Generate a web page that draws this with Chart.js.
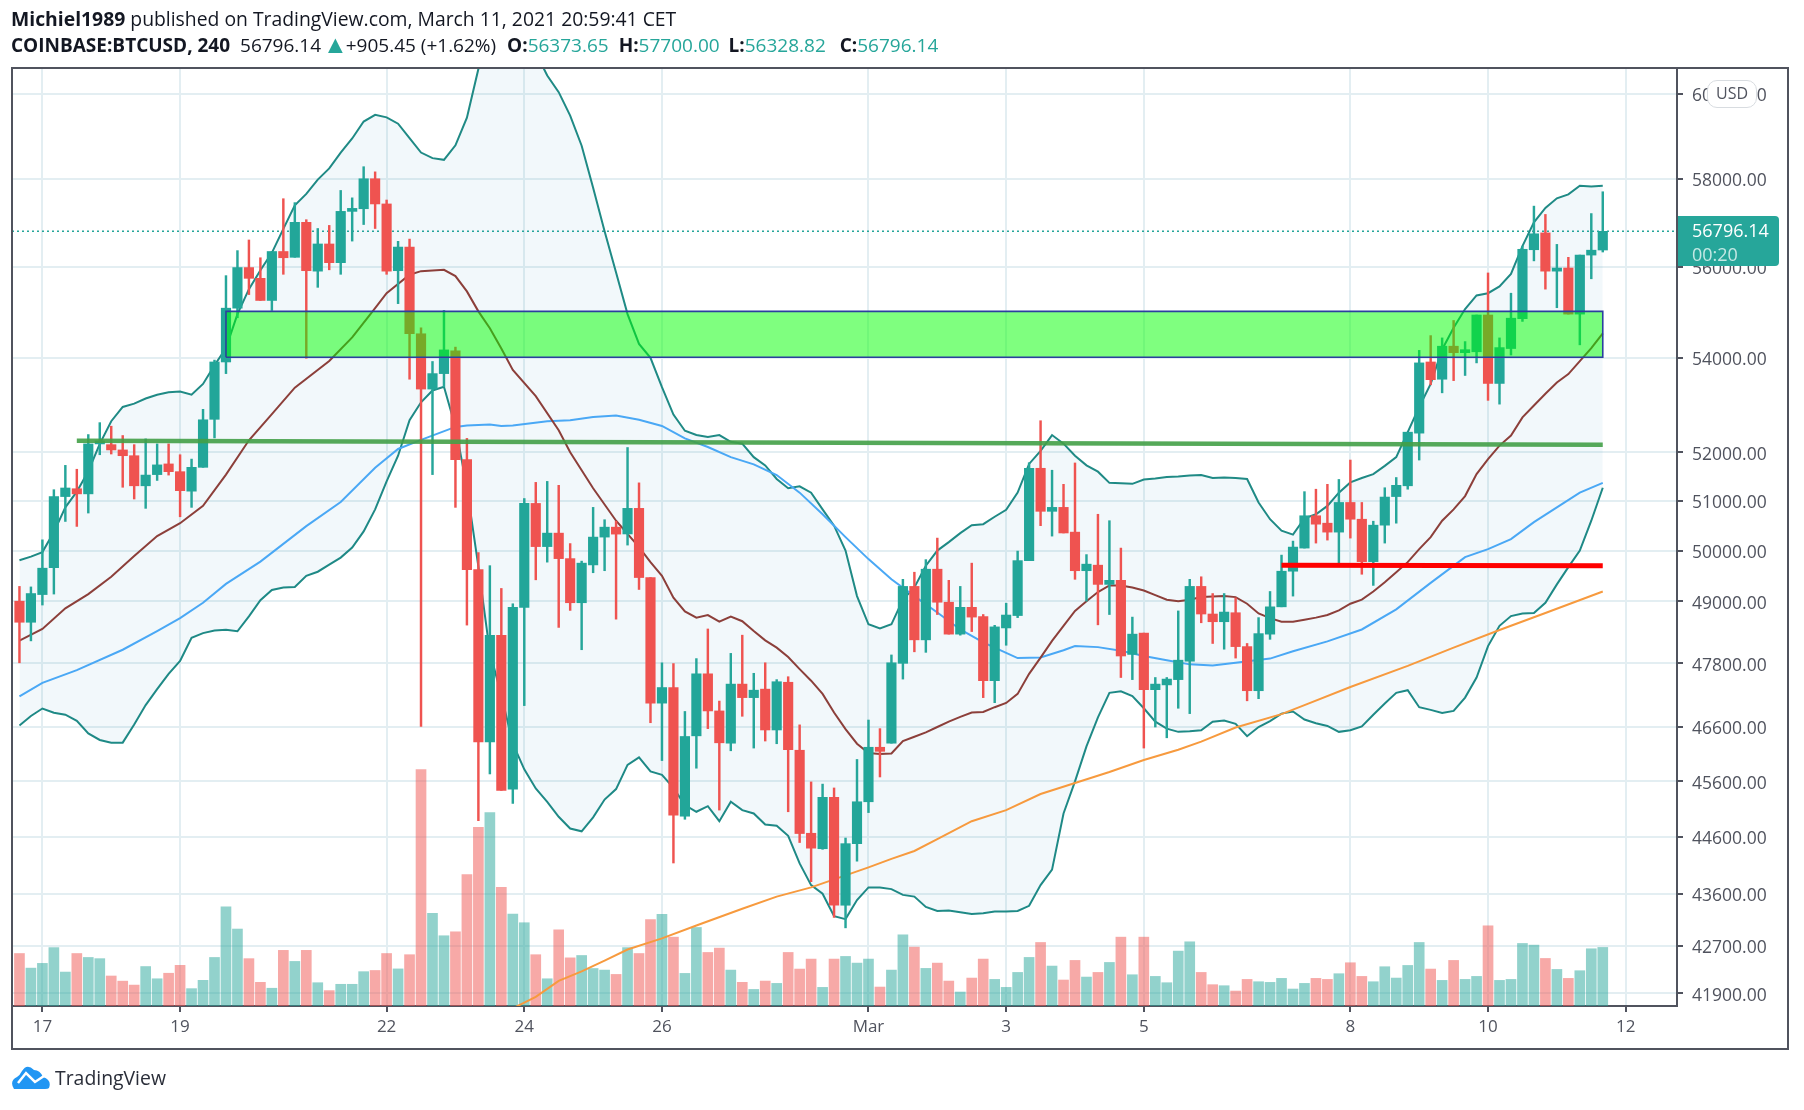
<!DOCTYPE html>
<html>
<head>
<meta charset="utf-8">
<title>BTCUSD</title>
<script src="https://cdn.jsdelivr.net/npm/chart.js@4/dist/chart.umd.min.js"></script>
<style>
  html, body { margin: 0; background: #fff; }
  body { width: 1804px; height: 1110px; position: relative; overflow: hidden; font-family: "Open Sans", sans-serif; color: #131722; }
  canvas { position: absolute; left: 0; top: 0; }
  .line1, .line2, .brand, .frame, .usd, .last { position: absolute; }
  .line1 { left: 11px; top: 5px; font-size: 19.35px; white-space: nowrap; }
  .line2 { left: 11px; top: 32px; font-size: 19px; white-space: nowrap; }
  .line2 i { font-style: normal; color: #26a69a; }
  .line2 .now { margin-left: 5px; }
  .line2 .up { font-size: 25px; line-height: 19px; vertical-align: -1px; margin-left: -3px; margin-right: -7px; }
  .line2 .o { margin-left: 6px; }
  .line2 .h { margin-left: 5px; }
  .line2 .l { margin-left: 4px; }
  .line2 .c { margin-left: 9px; }
  .frame { left: 11px; top: 67px; width: 1774px; height: 979px; border: 2px solid #50535e; pointer-events: none; }
  .usd { left: 1707px; top: 80px; width: 48px; height: 26px; line-height: 25px; text-align: center; font-size: 16px; color: #50535e; background: #fff; border: 1px solid #d8dce0; border-radius: 10px; }
  .last { left: 1678px; top: 216px; width: 101px; height: 50px; background: #26a69a; color: #fff; border-radius: 0 4px 4px 0; font-size: 18px; line-height: 24px; padding: 2px 0 0 14px; box-sizing: border-box; }
  .last em { font-style: normal; color: #c4e8e4; }
  .brand { left: 55px; top: 1064px; font-size: 19.4px; color: #2a2e39; }
  svg { position: absolute; left: 11px; top: 1064px; }
</style>
</head>
<body>
<canvas id="chart" width="1804" height="1110"></canvas>
<div class="line1"><b>Michiel1989</b> published on TradingView.com, March 11, 2021 20:59:41 CET</div>
<div class="line2"><b>COINBASE:BTCUSD, 240</b> <span class="now">56796.14</span> <i class="up">&#9650;</i> +905.45 (+1.62%) <b class="o">O:</b><i>56373.65</i> <b class="h">H:</b><i>57700.00</i> <b class="l">L:</b><i>56328.82</i> <b class="c">C:</b><i>56796.14</i></div>
<div class="frame"></div>
<div class="usd">USD</div>
<div class="last">56796.14<br><em>00:20</em></div>
<svg width="40" height="26" viewBox="0 0 40 26"><path d="M3 25 Q-2 17 6 13 Q9 11 11 7 Q16 -1 23 6 Q29 6 32 13 Q41 16 38 24 Q37 25 34 25 Z" fill="#2196f3"/><path d="M7 19 L15 9 L24 18 L33 12" fill="none" stroke="#fff" stroke-width="2.5"/></svg>
<div class="brand">TradingView</div>

<script>
// 4h candles, bar 0 is 16 Feb 16:00 and bar 138 is 11 Mar 20:00
const opens = [49000,48590,49130,49660,51090,51250,51145,52175,52160,52050,51930,51310,51540,51760,51600,51200,51690,52690,53910,55080,55980,55740,55250,56340,56210,57000,55900,56510,56090,57250,57310,58000,57420,55910,56440,54520,53330,53660,54150,51850,49620,46325,48335,45460,48880,50950,50080,50350,49840,48970,49715,50270,50470,50333,50850,49465,47046,47340,44970,46436,47600,46900,46300,47405,47150,47310,46545,47440,46170,44665,44390,45310,43400,44480,45230,46225,46300,47800,49290,48250,49630,48980,48360,48880,48700,47470,48480,48720,49800,51670,50790,50870,50370,49600,49710,49330,49410,47970,48380,47300,47390,47490,47840,49290,48750,48600,48775,48120,47280,48360,48890,49590,50050,50700,50550,50370,50970,50630,49780,50510,51090,51310,52400,53910,53540,54250,54110,54130,54930,53450,54200,54850,56380,56760,55900,55970,54950,56260,56373.65];
const highs = [49290,49280,50215,51230,51730,51650,52370,52620,52545,52350,52160,52280,52175,52175,51950,51860,52900,53950,55800,56360,56600,56200,56340,57540,57450,57060,56860,56930,57730,57560,58280,58160,57510,56570,56620,54650,53920,55030,54230,52290,49960,49700,49250,48950,51050,51380,51400,51320,50140,49790,50870,50620,50590,52100,51370,49465,47810,47795,46890,47890,48460,47085,47990,48340,47610,47810,47490,47545,46640,45590,45550,45480,44580,46000,46730,46570,47960,49430,49570,49820,50250,49410,49290,49750,48740,48530,48960,49990,51785,52660,51630,51340,51780,49920,50730,50600,50050,48690,48380,47530,47530,48810,49430,49480,49150,49150,49065,48180,48680,49190,49910,50190,51190,51240,51340,51440,51840,50970,50590,51270,51480,52420,54160,54480,54430,54810,54350,54930,55860,54430,55410,56460,57370,57180,56500,56210,56260,57200,57700];
const lows = [47810,48230,48925,49140,50585,50485,50755,51950,51965,51280,51040,50850,51420,51530,50680,50870,51690,52300,53660,54870,55380,55250,55030,55830,56210,53990,55540,55930,55830,56575,56950,56860,55830,55180,53540,46610,51540,53380,50870,48535,44890,45735,45435,45200,47000,49420,49770,48490,48820,48060,49560,49600,48650,50110,49230,46680,45980,44138,44915,45840,46570,45080,46160,46800,46210,46340,46290,45050,44500,43810,44380,43190,43010,44170,45035,45680,46300,47500,48020,48010,48740,48360,48340,48410,47150,47055,48146,48680,49800,50500,50290,50353,49430,49000,48540,48740,47530,47490,46210,46600,46400,46950,46850,48580,48180,48070,47900,47090,47130,48260,48890,49100,50050,50150,50210,49730,50250,49530,49310,50150,50550,51240,51840,53420,53250,53510,53620,53890,53090,53010,54060,54790,56130,55500,55090,54950,54280,55730,56328.82];
const closes = [48590,49150,49650,51090,51265,51145,52175,52210,52050,51930,51310,51530,51740,51600,51210,51690,52680,53910,55080,55980,55740,55250,56340,56200,57000,55910,56510,56090,57250,57310,58000,57420,55900,56440,54520,53330,53660,54170,51850,49620,46325,48335,45435,48880,50950,50080,50350,49840,48970,49750,50270,50470,50330,50850,49465,47046,47340,44987,46424,47600,46900,46307,47405,47150,47290,46545,47450,46180,44660,44400,45310,43400,44480,45230,46225,46150,47810,49290,48250,49630,48980,48360,48880,48690,47470,48500,48730,49800,51670,50790,50870,50353,49600,49730,49330,49410,47940,48360,47300,47405,47500,47860,49290,48750,48600,48788,48120,47280,48370,48890,49590,50070,50700,50530,50370,50970,50630,49780,50510,51080,51320,52420,53890,53530,54250,54110,54130,54930,53450,54220,54860,56390,56740,55900,55970,54950,56260,56370,56796.14];
const volumes = [1330,960,1080,1480,860,1330,1230,1200,760,630,530,1000,690,830,1030,440,650,1230,2510,1950,1200,600,450,1410,1130,1410,590,390,550,550,870,900,1330,940,1300,5990,2350,1780,1880,3330,4530,4900,3010,2330,2110,1300,690,1930,1220,1280,950,910,800,1480,1330,2190,2320,1745,826,1990,1357,1467,910,600,420,632,573,1357,936,1189,472,1189,1256,1087,1189,480,910,1804,1492,953,1087,632,354,708,1189,674,472,851,1231,1610,1012,658,1155,733,851,1104,1745,792,1745,750,590,1391,1627,851,540,514,379,674,615,599,700,430,573,700,674,818,1096,750,615,995,708,1028,1610,936,649,1155,674,750,2032,649,674,1585,1543,1205,927,700,894,1450,1484];

// Bollinger bands, one value per bar
const bbUpper = [49807,49880,49970,50370,50870,51190,51610,52175,52650,52950,53020,53130,53210,53260,53280,53210,53440,53840,54210,54950,55500,55920,56310,56850,57390,57650,57980,58240,58610,58940,59340,59500,59440,59290,58950,58610,58480,58440,58780,59430,60600,61100,61400,61400,61300,61000,60440,60040,59480,58770,57790,56800,55870,54950,54300,54000,53370,52790,52450,52360,52320,52360,52220,52180,51900,51730,51450,51260,51300,51170,50830,50500,50000,49100,48550,48470,48550,49030,49270,49700,50000,50170,50350,50510,50530,50680,50820,51170,51760,52030,52360,52180,51930,51730,51600,51370,51360,51350,51440,51460,51490,51500,51520,51530,51470,51480,51470,51450,50970,50630,50400,50320,50650,50730,50900,51170,51380,51470,51550,51720,51900,52420,52950,53440,54180,54650,55060,55360,55410,55560,55840,56460,57000,57330,57550,57640,57840,57820,57840];
const bbLower = [46630,46806,46945,46865,46830,46715,46480,46360,46310,46310,46645,47010,47310,47600,47845,48290,48380,48430,48445,48415,48705,49020,49220,49270,49280,49500,49580,49720,49860,50060,50385,50830,51400,51930,52670,53050,53300,53380,52530,51270,49680,48010,47200,46290,45820,45470,45230,44960,44750,44700,44950,45270,45460,45900,46040,45780,45720,45480,45170,45050,45150,44880,45230,45080,45020,44820,44800,44620,44130,43750,43600,43210,43160,43490,43710,43710,43680,43580,43550,43370,43300,43310,43280,43250,43260,43290,43290,43300,43390,43750,44020,45020,45600,46240,46780,47240,47270,47180,46950,46700,46570,46510,46520,46540,46700,46720,46660,46430,46600,46710,46850,46890,46740,46670,46620,46510,46540,46610,46830,47040,47240,47290,46970,46920,46860,46900,47150,47530,48130,48520,48710,48760,48770,48970,49330,49670,50000,50600,51270];

// the moving averages were read at these bars
const basisBars = [0,2,4,6,8,10,12,14,16,18,20,22,24,27,29,31,32,34,35,37,38,39,40,41,42,43,45,47,48,50,52,54,55,56,57,58,59,60,61,62,63,64,65,66,67,68,69,70,71,72,73,74,75,76,77,78,79,80,81,82,83,84,85,86,87,88,89,90,91,92,93,94,95,96,97,98,99,100,101,102,103,104,105,106,107,108,109,110,111,112,113,114,115,116,117,118,119,120,121,122,123,124,125,126,127,128,129,130,131,132,133,134,135,136,137,138];
const basisValues = [48235,48460,48860,49140,49480,49890,50290,50550,50900,51540,52250,52800,53360,53930,54440,55080,55410,55820,55900,55930,55790,55450,55010,54640,54200,53740,53180,52460,52000,51260,50600,50070,49770,49500,49070,48800,48680,48730,48600,48700,48610,48420,48240,48100,47920,47690,47470,47220,46870,46560,46290,46120,46100,46110,46340,46420,46500,46600,46700,46790,46870,46880,46970,47050,47220,47600,47910,48230,48520,48810,49000,49180,49310,49310,49270,49210,49120,49030,49000,49030,49080,49090,49100,49080,48950,48760,48670,48600,48600,48640,48680,48730,48820,48950,49030,49190,49370,49570,49770,50030,50270,50600,50830,51100,51550,51860,52140,52350,52730,52980,53230,53470,53650,53930,54210,54530];
const blueBars = [0,2,5,9,12,14,16,18,21,25,28,31,33,35,38,39,41,42,43,46,48,50,52,54,56,58,60,62,64,66,68,70,72,74,76,78,80,82,84,86,87,89,91,92,94,96,98,100,102,104,106,109,111,114,117,120,123,126,128,130,132,134,136,138];
const blueValues = [47174,47430,47670,48060,48420,48670,48970,49340,49780,50490,50980,51680,52070,52260,52530,52560,52580,52550,52560,52650,52670,52740,52770,52680,52550,52290,52110,51900,51750,51530,51170,50730,50270,49830,49430,49100,48780,48450,48200,48000,47900,47910,48050,48130,48110,48040,47940,47860,47780,47760,47810,47890,48030,48220,48450,48840,49360,49870,50030,50230,50570,50870,51170,51370];
const orangeBars = [43,45,47,49,51,53,56,59,63,66,69,72,74,76,78,80,83,86,89,92,95,98,101,103,106,110,112,116,121,125,129,133,138];
const orangeValues = [41650,41840,42110,42270,42450,42640,42830,43050,43340,43550,43710,43920,44060,44210,44350,44560,44880,45080,45370,45570,45770,45990,46180,46330,46590,46840,47010,47350,47750,48100,48440,48770,49190];

// drawings on top of the chart
const zoneBars = [18, 138];
const zoneLow = 54010;
const zoneHigh = 55010;
const supportBars = [5, 138];
const supportPrices = [52240, 52160];
const redLineBars = [110, 138];
const redLinePrices = [49710, 49700];
const lastPrice = 56796.14;

const priceTicks = [60000,58000,56000,54000,52000,51000,50000,49000,47800,46600,45600,44600,43600,42700,41900];
const dayTicks = [2,14,32,44,56,74,86,98,116,128,140];
const dayLabels = ['17','19','22','24','26','Mar','3','5','8','10','12'];

const TEAL = '#26a69a', RED = '#ef5350';
const TEAL_VOL = 'rgba(38,166,154,.5)', RED_VOL = 'rgba(239,83,80,.5)';
const INK = '#50535e', GRID = '#e3eef2';
const X_MIN = -0.65, X_MAX = 144.47;

const isUp = opens.map((o, i) => closes[i] >= o);
const pts = (xs, ys) => xs.map((x, i) => ({ x: x, y: ys[i] }));
const barIndex = opens.map((_, i) => i);

function lineSet(data, color, width, order, extra) {
    return Object.assign({ type: 'line', data: data, borderColor: color, borderWidth: width, pointRadius: 0, tension: 0, fill: false, order: order, yAxisID: 'y' }, extra || {});
}

const datasets = [
    // volume sits lowest, on its own hidden axis
    { data: pts(barIndex, volumes), yAxisID: 'yVol', backgroundColor: isUp.map(u => u ? TEAL_VOL : RED_VOL), barThickness: 10, order: 20 },
    lineSet(pts([X_MIN, X_MAX], [lastPrice, lastPrice]), TEAL, 1.5, 19, { borderDash: [2, 3] }),
    lineSet(pts(barIndex, bbUpper), '#1f8a85', 2, 12, { fill: '+1', backgroundColor: 'rgba(30,130,190,.06)' }),
    lineSet(pts(barIndex, bbLower), '#1f8a85', 2, 12),
    lineSet(pts(basisBars, basisValues), '#8c3f3a', 2, 11),
    lineSet(pts(blueBars, blueValues), '#4aa8f5', 2, 11),
    lineSet(pts(orangeBars, orangeValues), '#f79a3e', 2, 11),
    // wicks first, then bodies
    { data: barIndex.map(i => ({ x: i, y: [lows[i], highs[i]] })), yAxisID: 'y', backgroundColor: isUp.map(u => u ? TEAL : RED), barThickness: 1.8, order: 8 },
    { data: barIndex.map(i => ({ x: i, y: [opens[i], closes[i]] })), yAxisID: 'y', backgroundColor: isUp.map(u => u ? '#22a699' : RED), barThickness: 9.5, minBarLength: 3, order: 7 },
    lineSet(pts(zoneBars, [zoneHigh, zoneHigh]), 'rgba(0,0,0,0)', 0, 5, { fill: { target: { value: zoneLow } }, backgroundColor: 'rgba(0,255,0,.5)' }),
    lineSet(pts([zoneBars[0], zoneBars[0], zoneBars[1], zoneBars[1], zoneBars[0]], [zoneLow, zoneHigh, zoneHigh, zoneLow, zoneLow]), '#2b3f9e', 1.6, 4),
    lineSet(pts(supportBars, supportPrices), 'rgba(67,160,71,.9)', 4.5, 3),
    lineSet(pts(redLineBars, redLinePrices), '#ff0000', 5, 3)
];

new Chart(document.getElementById('chart'), {
    type: 'bar',
    data: { datasets: datasets },
    options: {
        responsive: false,
        animation: false,
        events: [],
        layout: { padding: { left: 12, top: 68, right: 18, bottom: 63 } },
        plugins: { legend: { display: false }, tooltip: { enabled: false } },
        datasets: { bar: { grouped: false } },
        scales: {
            x: {
                type: 'linear',
                offset: false,
                min: X_MIN,
                max: X_MAX,
                afterBuildTicks: s => { s.ticks = dayTicks.map(v => ({ value: v })); },
                afterFit: s => { s.height = 41; },
                grid: { color: GRID, lineWidth: 2, offset: false, tickLength: 6, tickColor: INK },
                border: { color: INK, width: 2 },
                ticks: { autoSkip: false, maxRotation: 0, padding: 5, color: INK, font: { family: 'Open Sans', size: 17 }, callback: v => dayLabels[dayTicks.indexOf(v)] }
            },
            y: {
                type: 'logarithmic',
                position: 'right',
                min: 41689,
                max: 60622,
                afterBuildTicks: s => { s.ticks = priceTicks.map(v => ({ value: v })); },
                afterFit: s => { s.width = 109; },
                grid: { color: GRID, lineWidth: 2, tickLength: 6, tickColor: INK },
                border: { color: INK, width: 2 },
                ticks: { autoSkip: false, padding: 9, labelOffset: 2.5, color: INK, font: { family: 'Open Sans', size: 17.5 }, callback: v => v.toFixed(2) }
            },
            yVol: { type: 'linear', display: false, min: 0, max: 23770 }
        }
    }
});
</script>
</body>
</html>
